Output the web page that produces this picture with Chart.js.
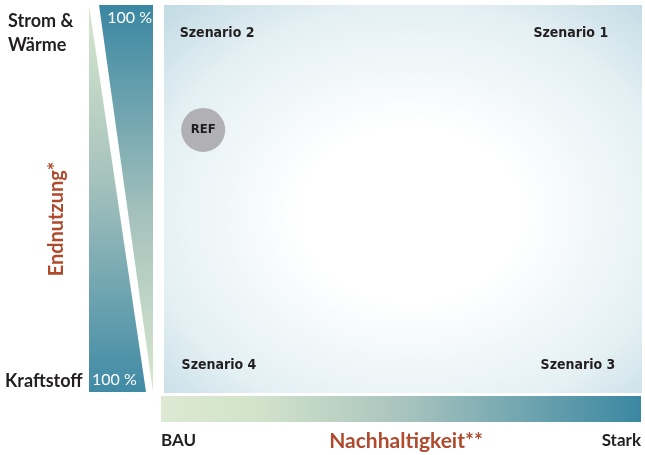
<!DOCTYPE html>
<html>
<head>
<meta charset="utf-8">
<script src="https://cdn.jsdelivr.net/npm/chart.js@4"></script>
<style>
  html, body { margin: 0; padding: 0; background: #fff; }
  #wrap { width: 645px; height: 455px; }
</style>
</head>
<body>
<div id="wrap"><canvas id="myChart" width="645" height="455"></canvas></div>
<script>
// scenario positions (0..10 on both axes)
const scenarioLabels = ['Szenario 1', 'Szenario 2', 'Szenario 3', 'Szenario 4'];
const scenarioX = [8.51, 1.11, 8.66, 1.15];
const scenarioY = [9.28, 9.28, 0.70, 0.70];

const refLabels = ['REF'];
const refX = [0.82];
const refY = [6.78];

// axis labels
const xTickLabels = ['BAU', 'Stark'];
const yTickLabels = ['Kraftstoff', 'Strom & Wärme'];
const wedgeLabels = ['100 %', '100 %'];
const xTitle = 'Nachhaltigkeit**';
const yTitle = 'Endnutzung*';

const titleColor = '#b04a2c';
const labelFont = "'Lato', 'Open Sans', sans-serif";
const scenFont = "'DejaVu Sans Condensed', 'Liberation Sans Narrow', sans-serif";

const diagram = {
    id: 'diagram',
    beforeDatasetsDraw(chart) {
        const ctx = chart.ctx;
        const a = chart.chartArea;
        const w = a.right - a.left, h = a.bottom - a.top;

        // soft radial background
        const cx = a.left + w * 0.515, cy = a.top + h * 0.54;
        ctx.save();
        ctx.translate(cx, cy);
        ctx.scale(1, 0.8);
        const g = ctx.createRadialGradient(0, 0, 0, 0, 0, 360);
        g.addColorStop(0, '#ffffff');
        g.addColorStop(0.3, '#ffffff');
        g.addColorStop(0.72, '#e4f0f4');
        g.addColorStop(1, '#c1dae3');
        ctx.fillStyle = g;
        ctx.fillRect(a.left - cx, (a.top - cy) / 0.8, w, h / 0.8);
        ctx.restore();

        ctx.save();
        // bottom bar
        const by0 = a.bottom + 3, by1 = a.bottom + 29;
        const bg = ctx.createLinearGradient(a.left - 3, 0, a.right, 0);
        bg.addColorStop(0, '#dde9d2');
        bg.addColorStop(0.2, '#d2e3cb');
        bg.addColorStop(0.5, '#a9c4be');
        bg.addColorStop(1, '#3a87a2');
        ctx.fillStyle = bg;
        ctx.fillRect(a.left - 3, by0, a.right - a.left + 2, by1 - by0);

        // left wedges
        const lx0 = a.left - 75, lx1 = a.left - 11;
        // Strom & Wärme: wide at top
        let wg = ctx.createLinearGradient(0, a.top, 0, a.bottom);
        wg.addColorStop(0, '#3a87a2');
        wg.addColorStop(0.55, '#a6c2bd');
        wg.addColorStop(1, '#d9e8cf');
        ctx.fillStyle = wg;
        ctx.beginPath();
        ctx.moveTo(lx0 + 10, a.top);
        ctx.lineTo(lx1, a.top);
        ctx.lineTo(lx1, a.bottom - 1);
        ctx.closePath();
        ctx.fill();
        // Kraftstoff: wide at bottom
        wg = ctx.createLinearGradient(0, a.bottom, 0, a.top);
        wg.addColorStop(0, '#3f8aa5');
        wg.addColorStop(0.55, '#a6c2bd');
        wg.addColorStop(1, '#d9e8cf');
        ctx.fillStyle = wg;
        ctx.beginPath();
        ctx.moveTo(lx0, a.top);
        ctx.lineTo(lx0, a.bottom - 1);
        ctx.lineTo(lx1 - 7, a.bottom - 1);
        ctx.closePath();
        ctx.fill();
        ctx.restore();
    },
    afterDatasetsDraw(chart) {
        const ctx = chart.ctx;
        const a = chart.chartArea;
        ctx.save();
        ctx.textBaseline = 'middle';

        // scenario labels
        ctx.fillStyle = '#231f20';
        ctx.textAlign = 'center';
        ctx.font = 'bold 14px ' + scenFont;
        chart.getDatasetMeta(0).data.forEach((p, i) => {
            ctx.fillText(scenarioLabels[i], p.x, p.y);
        });
        ctx.font = 'bold 13px ' + scenFont;
        chart.getDatasetMeta(1).data.forEach((p, i) => {
            ctx.fillText(refLabels[i], p.x, p.y);
        });

        // wedge percentages
        ctx.fillStyle = '#ffffff';
        ctx.font = '16px ' + labelFont;
        ctx.textAlign = 'right';
        ctx.fillText(wedgeLabels[1], a.left - 12, a.top + 13);
        ctx.textAlign = 'left';
        ctx.fillText(wedgeLabels[0], a.left - 72, a.bottom - 13);

        // y labels
        ctx.fillStyle = '#231f20';
        ctx.font = 'bold 18px ' + labelFont;
        ctx.textAlign = 'left';
        const parts = yTickLabels[1].split(' ');
        ctx.fillText(parts[0] + ' ' + parts[1], 8, a.top + 16);
        ctx.fillText(parts[2], 8, a.top + 40);
        ctx.fillText(yTickLabels[0], 5, a.bottom - 12);

        // x labels
        const ty = a.bottom + 48;
        ctx.font = 'bold 17px ' + labelFont;
        ctx.textAlign = 'left';
        ctx.fillText(xTickLabels[0], a.left - 3, ty);
        ctx.textAlign = 'right';
        ctx.fillText(xTickLabels[1], a.right - 1, ty);

        // titles
        ctx.fillStyle = titleColor;
        ctx.font = 'bold 21px ' + labelFont;
        ctx.textAlign = 'center';
        ctx.fillText(xTitle, a.left + 242, ty);
        ctx.font = 'bold 20px ' + labelFont;
        ctx.translate(57, a.top + 214);
        ctx.rotate(-Math.PI / 2);
        ctx.fillText(yTitle, 0, 0);
        ctx.restore();
    }
};

const ctx = document.getElementById('myChart');

new Chart(ctx, {
    type: 'scatter',
    data: {
        datasets: [{
            label: 'Szenarien',
            data: scenarioX.map((x, i) => ({ x: x, y: scenarioY[i] })),
            pointRadius: 0,
            pointHoverRadius: 0
        }, {
            label: 'REF',
            data: refX.map((x, i) => ({ x: x, y: refY[i] })),
            pointRadius: 22,
            pointHoverRadius: 22,
            backgroundColor: '#b1b0b4',
            borderWidth: 0
        }]
    },
    plugins: [diagram],
    options: {
        responsive: false,
        animation: false,
        events: [],
        layout: { autoPadding: false, padding: { left: 164, right: 3, top: 5, bottom: 62 } },
        plugins: { legend: { display: false }, tooltip: { enabled: false } },
        scales: {
            x: { type: 'linear', min: 0, max: 10, display: false },
            y: { type: 'linear', min: 0, max: 10, display: false }
        }
    }
});
</script>
</body>
</html>
